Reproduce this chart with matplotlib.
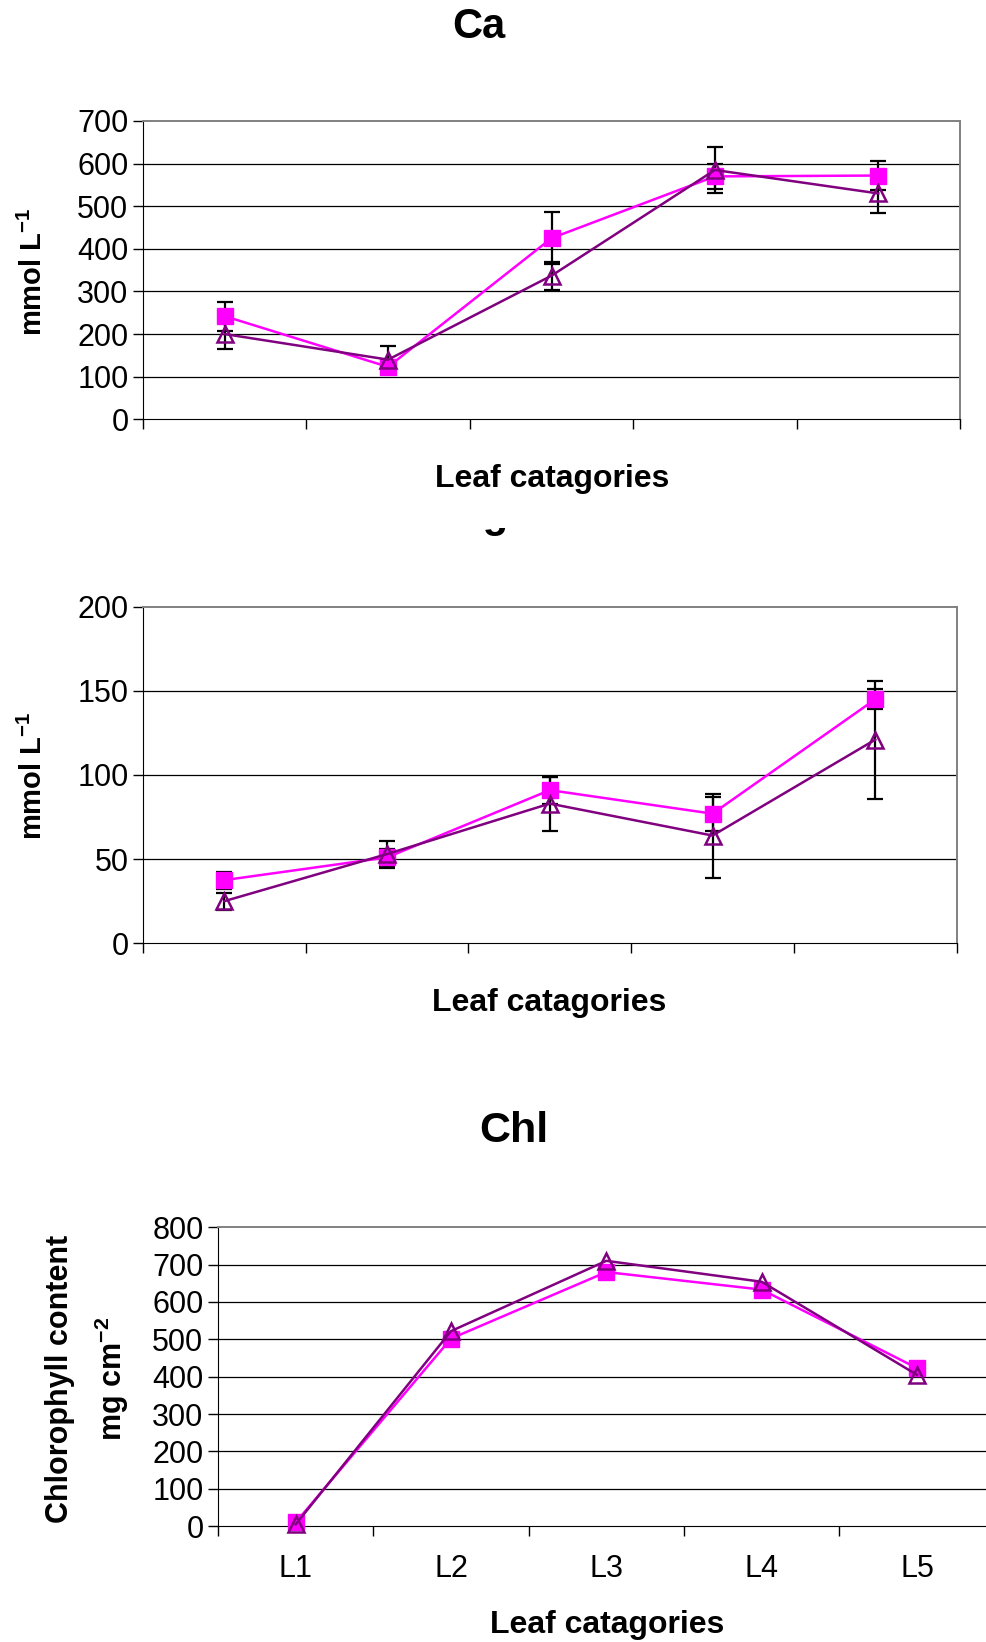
import numpy as np
import matplotlib
matplotlib.use('Agg')
import matplotlib.pyplot as plt
from matplotlib.patches import Rectangle

plt.rcParams['font.family'] = ['Liberation Sans', 'DejaVu Sans']
plt.rcParams['mathtext.fontset'] = 'custom'
plt.rcParams['mathtext.rm'] = 'Liberation Sans'
plt.rcParams['mathtext.bf'] = 'Liberation Sans:bold'
plt.rcParams['mathtext.default'] = 'bf'

cats = ['L1', 'L2', 'L3', 'L4', 'L5']

ca_pink = [242, 123, 425, 570, 572]
ca_pink_err = [34, 10, 61, 30, 35]
ca_purple = [200, 140, 337, 585, 530]
ca_purple_err = [35, 33, 33, 53, 45]

mg_pink = [37.5, 51, 91, 77, 145]
mg_pink_err = [5, 5, 8, 10, 6]
mg_purple = [25, 53, 83, 64, 121]
mg_purple_err = [5, 8, 16, 25, 35]

chl_pink = [10, 502, 680, 633, 423]
chl_purple = [5, 522, 710, 654, 405]

PINK = '#FF00FF'
PURPLE = '#800080'
W, H = 986, 1642


def px(x, y):
    return x / W, 1 - y / H


def rect(left, top, right, bottom):
    return [left / W, 1 - bottom / H, (right - left) / W, (bottom - top) / H]


def style_axes(ax, ymax, step, labels=None):
    x = np.arange(len(cats))
    ax.set_xlim(-0.5, len(cats) - 0.5)
    ax.set_ylim(0, ymax)
    ax.set_yticks(np.arange(0, ymax + 1, step))
    ax.set_xticks(np.arange(-0.5, len(cats)))
    ax.set_xticklabels([])
    if labels is not None:
        ax.set_xticks(x, minor=True)
        ax.set_xticklabels(labels, minor=True)
        ax.tick_params(axis='x', which='minor', length=0, pad=20, labelsize=22)
    ax.tick_params(axis='both', which='major', direction='out', length=7, width=1,
                   labelsize=22, pad=3.5, color='black')
    for y in np.arange(step, ymax, step):
        ax.axhline(y, color='black', lw=0.9, zorder=1)
    ax.spines['top'].set_color('#808080')
    ax.spines['right'].set_color('#808080')
    ax.spines['top'].set_linewidth(1.4)
    ax.spines['right'].set_linewidth(1.4)
    ax.spines['left'].set_color('black')
    ax.spines['bottom'].set_color('black')


def draw_series(ax, pink, purple, pink_err=None, purple_err=None):
    x = np.arange(len(cats))
    if pink_err is not None:
        ax.errorbar(x, pink, yerr=pink_err, fmt='none', ecolor='black',
                    elinewidth=1.6, capsize=5.5, capthick=1.6, zorder=3)
        ax.errorbar(x, purple, yerr=purple_err, fmt='none', ecolor='black',
                    elinewidth=1.6, capsize=5.5, capthick=1.6, zorder=3)
    ax.plot(x, pink, color=PINK, lw=1.8, marker='s', markersize=11.5,
            markerfacecolor=PINK, markeredgecolor=PINK, zorder=4, clip_on=False)
    ax.plot(x, purple, color=PURPLE, lw=1.8, marker='^', markersize=11.5,
            markerfacecolor='none', markeredgecolor=PURPLE, markeredgewidth=1.8,
            zorder=5, clip_on=False)


fig = plt.figure(figsize=(W / 100, H / 100), dpi=100)

# Ca
ax1 = fig.add_axes(rect(143, 121, 960, 419.3))
style_axes(ax1, 700, 100)
draw_series(ax1, ca_pink, ca_purple, ca_pink_err, ca_purple_err)
fig.text(*px(479, 27), 'Ca', ha='center', va='center', fontsize=30, weight='bold')
fig.text(*px(552, 479), 'Leaf catagories', ha='center', va='center', fontsize=23, weight='bold')
fig.text(*px(33, 272), r'mmol L$^{-1}$', ha='center', va='center', fontsize=21,
         weight='bold', rotation=90)

# Mg (title mostly hidden behind the Ca chart area)
ax2 = fig.add_axes(rect(143, 606.8, 956.6, 943.2))
style_axes(ax2, 200, 50)
draw_series(ax2, mg_pink, mg_purple, mg_pink_err, mg_purple_err)
fig.text(*px(478, 527), 'Mg', ha='center', va='baseline', fontsize=30, weight='bold',
         zorder=0.1)
cover = Rectangle(px(0, 528), 1, 90 / H, transform=fig.transFigure,
                  facecolor='white', edgecolor='none', zorder=0.2)
fig.add_artist(cover)
fig.text(*px(549, 1003), 'Leaf catagories', ha='center', va='center', fontsize=23, weight='bold')
fig.text(*px(33, 776), r'mmol L$^{-1}$', ha='center', va='center', fontsize=21,
         weight='bold', rotation=90)

# Chl
ax3 = fig.add_axes(rect(218, 1227.2, 994.7, 1526.2))
style_axes(ax3, 800, 100, labels=cats)
draw_series(ax3, chl_pink, chl_purple)
fig.text(*px(514, 1131), 'Chl', ha='center', va='center', fontsize=31, weight='bold')
fig.text(*px(607, 1625), 'Leaf catagories', ha='center', va='center', fontsize=23, weight='bold')
fig.text(*px(88, 1379), 'Chlorophyll content\n' + r'mg cm$^{-2}$', ha='center', va='center',
         fontsize=22, weight='bold', rotation=90, linespacing=1.6)

fig.savefig('out.png', dpi=100)
